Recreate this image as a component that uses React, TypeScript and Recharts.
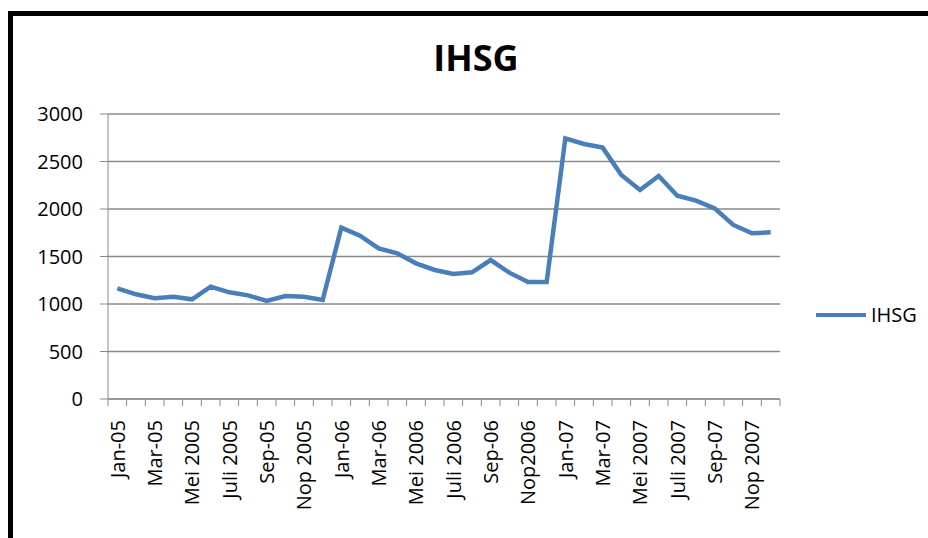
import React from 'react';
import { LineChart, Line, XAxis, YAxis, CartesianGrid } from 'recharts';

// IHSG monthly close, Jan 2005 - Dec 2007
const MONTHS = [
  'Jan-05', 'Feb-05', 'Mar-05', 'Apr-05', 'Mei 2005', 'Jun-05', 'Juli 2005', 'Agu-05', 'Sep-05', 'Okt-05', 'Nop 2005', 'Des-05',
  'Jan-06', 'Feb-06', 'Mar-06', 'Apr-06', 'Mei 2006', 'Jun-06', 'Juli 2006', 'Agu-06', 'Sep-06', 'Okt-06', 'Nop2006', 'Des-06',
  'Jan-07', 'Feb-07', 'Mar-07', 'Apr-07', 'Mei 2007', 'Jun-07', 'Juli 2007', 'Agu-07', 'Sep-07', 'Okt-07', 'Nop 2007', 'Des-07',
];

const IHSG = [
  1165, 1102, 1060, 1077, 1049, 1182, 1123, 1091, 1032, 1084, 1077, 1042,
  1804, 1719, 1586, 1533, 1428, 1358, 1316, 1333, 1463, 1330, 1232, 1232,
  2744, 2684, 2646, 2358, 2200, 2347, 2140, 2088, 2007, 1832, 1744, 1754,
];

const Y_TICKS = [0, 500, 1000, 1500, 2000, 2500, 3000];
// category boundaries (tick marks sit between months, Excel style)
const BOUNDARIES = [...MONTHS.map((_, i) => i), MONTHS.length];

const data = MONTHS.map((m, i) => ({ month: m, pos: i + 0.5, IHSG: IHSG[i] }));

const FONT = '"Open Sans", sans-serif';
const BLUE = '#4A7EBB';
const GRID = '#8a8a8a';
const HALF = (780 - 108) / MONTHS.length / 2;

const MonthTick = ({ x, y, payload }: any) => {
  const i = payload.value;
  if (i % 2 !== 0 || i >= MONTHS.length) return <g />;
  return (
    <text
      x={0}
      y={0}
      transform={`translate(${x + HALF},${y + 14}) rotate(-90)`}
      textAnchor="end"
      dy="0.36em"
      fill="#000"
      fontSize={20}
      fontFamily={FONT}
    >
      {MONTHS[i]}
    </text>
  );
};

const App: React.FC = () => {
  return (
    <div style={styles.page}>
      <div style={styles.frame} />
      <div style={styles.title}>IHSG</div>
      <div style={styles.chart}>
        <LineChart width={928} height={538} data={data} margin={{ top: 114, right: 148, bottom: 109, left: 48 }}>
          <CartesianGrid vertical={false} stroke={GRID} strokeWidth={1.3} />
          <XAxis
            dataKey="pos"
            type="number"
            domain={[0, MONTHS.length]}
            ticks={BOUNDARIES}
            interval={0}
            height={30}
            tickSize={7}
            tickMargin={0}
            stroke={GRID}
            tick={<MonthTick />}
          />
          <YAxis
            domain={[0, 3000]}
            ticks={Y_TICKS}
            width={60}
            tickSize={8}
            tickMargin={17}
            stroke={GRID}
            tick={{ fill: '#000', fontSize: 20, fontFamily: FONT }}
            interval={0}
          />
          <Line
            type="linear"
            dataKey="IHSG"
            stroke={BLUE}
            strokeWidth={4.5}
            dot={false}
            isAnimationActive={false}
          />
        </LineChart>
      </div>
      <div style={styles.legend}>
        <span style={styles.legendLine} />
        <span style={styles.legendText}>IHSG</span>
      </div>
    </div>
  );
};

const styles: Record<string, React.CSSProperties> = {
  page: {
    position: 'fixed',
    left: 0,
    top: 0,
    width: 928,
    height: 538,
    overflow: 'hidden',
    background: '#fff',
  },
  frame: {
    position: 'absolute',
    left: 8,
    top: 11,
    width: 1000,
    height: 600,
    borderLeft: '5px solid #000',
    borderTop: '5px solid #000',
  },
  title: {
    position: 'absolute',
    left: 376,
    top: 40,
    width: 200,
    textAlign: 'center',
    fontFamily: FONT,
    fontWeight: 700,
    fontSize: 36,
    lineHeight: '36px',
    color: '#000',
  },
  chart: {
    position: 'absolute',
    left: 0,
    top: 0,
  },
  legend: {
    position: 'absolute',
    left: 816,
    top: 302,
    display: 'flex',
    alignItems: 'center',
    fontFamily: FONT,
  },
  legendLine: {
    display: 'inline-block',
    width: 50,
    height: 4.5,
    background: BLUE,
    marginRight: 5,
  },
  legendText: {
    fontSize: 20,
    color: '#000',
    lineHeight: '26px',
  },
};

export default App;
